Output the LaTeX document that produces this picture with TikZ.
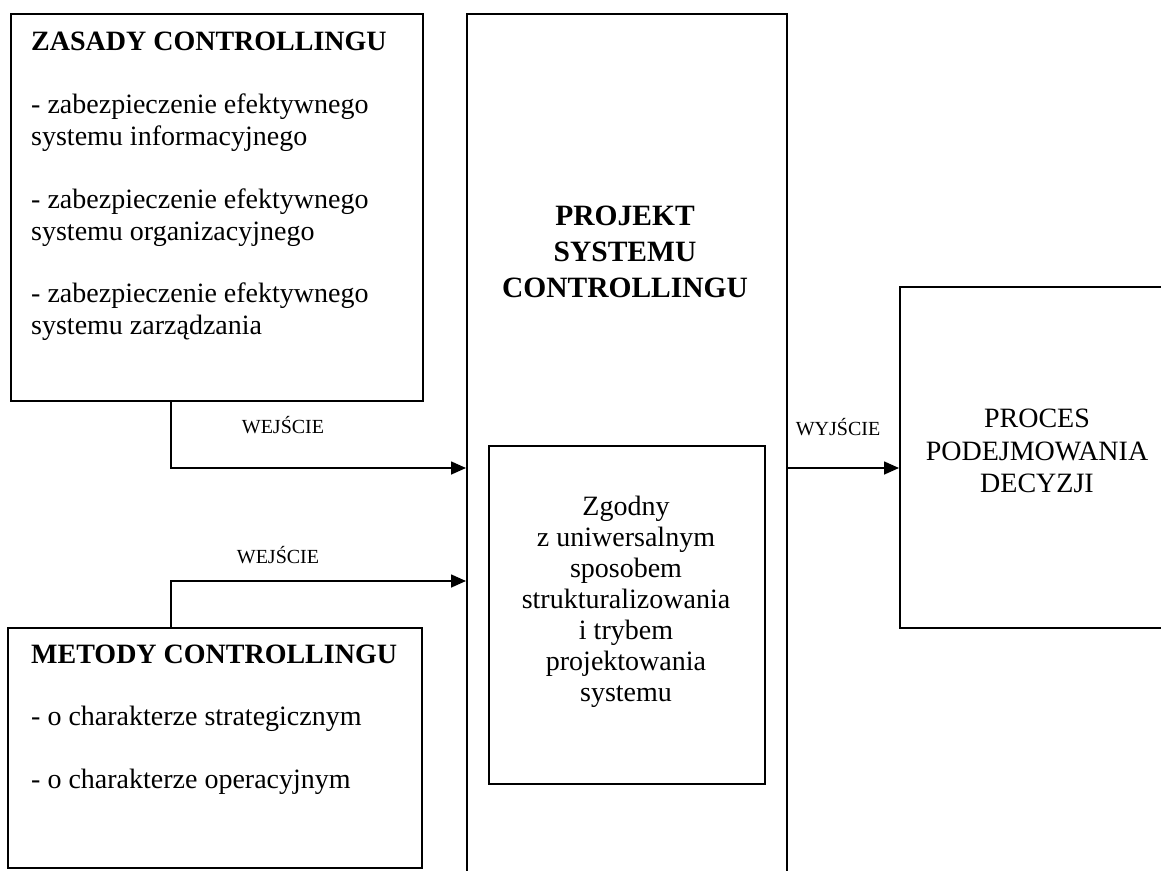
\documentclass[tikz,border=0pt]{standalone}
\usepackage{fontspec}
\setmainfont{Liberation Serif}
\usetikzlibrary{arrows.meta}
\tikzset{
  box/.style={draw=black, line width=1.6pt, rectangle, inner sep=0pt, anchor=north west},
  txt/.style={inner sep=0pt, font=\fontsize{28}{32}\selectfont},
  ttl/.style={inner sep=0pt, font=\fontsize{28}{32}\selectfont\bfseries},
  big/.style={inner sep=0pt, font=\fontsize{29.5}{34}\selectfont\bfseries},
  lbl/.style={inner sep=0pt, font=\fontsize{20}{24}\selectfont},
  arr/.style={draw=black, line width=1.6pt, -{Triangle[length=15pt,width=13pt]}}
}
\begin{document}
\begin{tikzpicture}[x=1pt,y=-1pt]
\clip (0,0) rectangle (1161,870);
\fill[white] (0,0) rectangle (1161,870);
% boxes
\node[box, minimum width=412pt, minimum height=387pt] (zasady) at (10,13) {};
\node[box, minimum width=414pt, minimum height=240pt] (metody) at (7,627) {};
\node[box, minimum width=320pt, minimum height=900pt] (projekt) at (466,13) {};
\node[box, minimum width=276pt, minimum height=338pt] (zgodny) at (488,445) {};
\node[box, minimum width=300pt, minimum height=341pt] (proces) at (899,286) {};
% texts: zasady
\node[ttl, anchor=base west] (z0) at (31,50) {ZASADY CONTROLLINGU};
\node[txt, anchor=base west] (z1) at (31,113) {- zabezpieczenie efektywnego};
\node[txt, anchor=base west] (z2) at (31,145) {systemu informacyjnego};
\node[txt, anchor=base west] (z3) at (31,208) {- zabezpieczenie efektywnego};
\node[txt, anchor=base west] (z4) at (31,240) {systemu organizacyjnego};
\node[txt, anchor=base west] (z5) at (31,302) {- zabezpieczenie efektywnego};
\node[txt, anchor=base west] (z6) at (31,334) {systemu zarządzania};
% metody
\node[ttl, anchor=base west] (m0) at (31,663) {METODY CONTROLLINGU};
\node[txt, anchor=base west] (m1) at (31,725) {- o charakterze strategicznym};
\node[txt, anchor=base west] (m2) at (31,788) {- o charakterze operacyjnym};
% projekt
\node[big, anchor=base] (p1) at (625,225) {PROJEKT};
\node[big, anchor=base] (p2) at (625,261) {SYSTEMU};
\node[big, anchor=base] (p3) at (625,297) {CONTROLLINGU};
% zgodny
\node[txt, anchor=base] (g1) at (626,515) {Zgodny};
\node[txt, anchor=base] (g2) at (626,546) {z uniwersalnym};
\node[txt, anchor=base] (g3) at (626,577) {sposobem};
\node[txt, anchor=base] (g4) at (626,608) {strukturalizowania};
\node[txt, anchor=base] (g5) at (626,639) {i trybem};
\node[txt, anchor=base] (g6) at (626,670) {projektowania};
\node[txt, anchor=base] (g7) at (626,701) {systemu};
% proces
\node[txt, anchor=base] (r1) at (1037,427) {PROCES};
\node[txt, anchor=base] (r2) at (1037,460) {PODEJMOWANIA};
\node[txt, anchor=base] (r3) at (1037,492) {DECYZJI};
% labels
\node[lbl, anchor=base] (l1) at (283,433) {WEJŚCIE};
\node[lbl, anchor=base] (l2) at (278,563) {WEJŚCIE};
\node[lbl, anchor=base] (l3) at (838,435) {WYJŚCIE};
% connectors
\coordinate (s1) at (171,400);
\coordinate (t1) at (466,468);
\coordinate (s2) at (171,627);
\coordinate (t2) at (466,581);
\coordinate (s3) at (786,468);
\coordinate (t3) at (899,468);
\draw[arr] (s1) |- (t1);
\draw[arr] (s2) |- (t2);
\draw[arr] (s3) -- (t3);
\end{tikzpicture}
\end{document}
